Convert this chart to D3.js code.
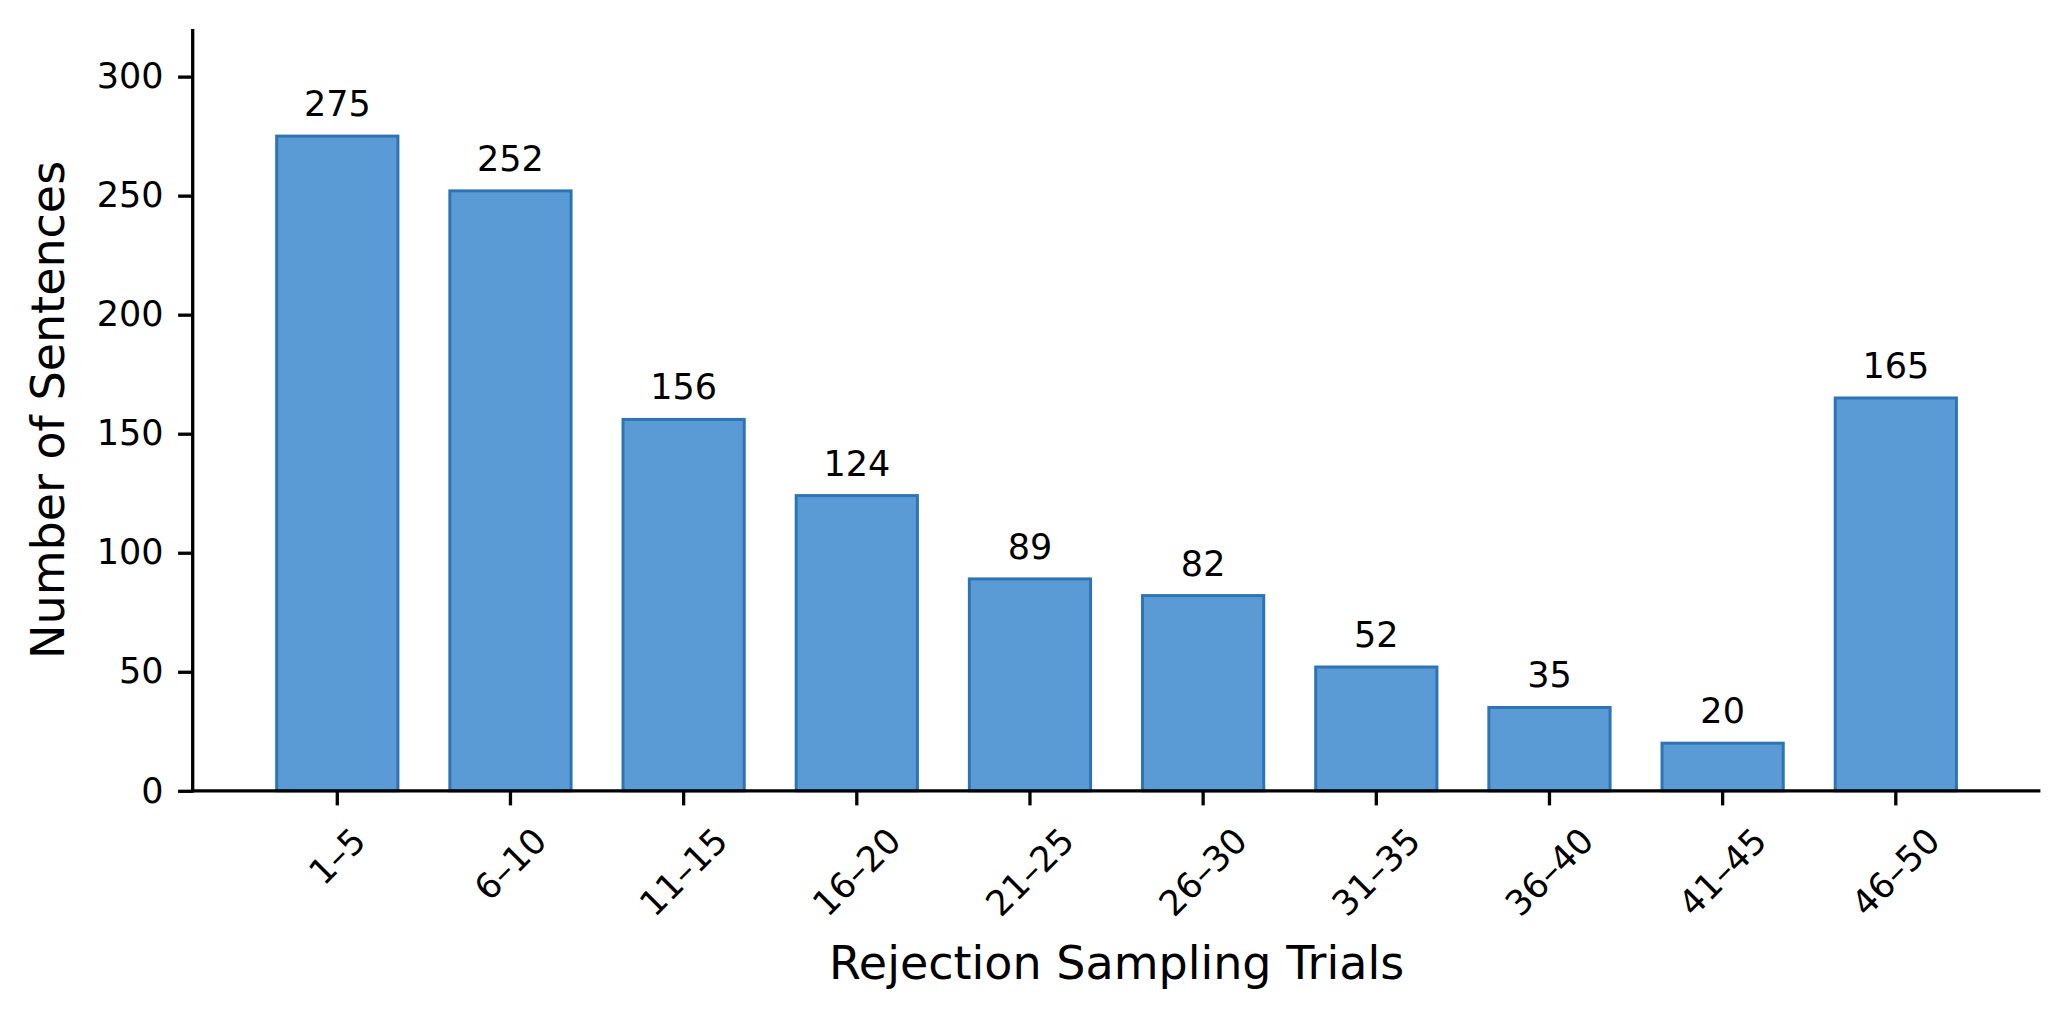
<!DOCTYPE html>
<html>
<head>
<meta charset="utf-8">
<script src="https://cdn.jsdelivr.net/npm/d3@7"></script>
<style>
  body { margin: 0; background: #fff; }
  svg text { font-family: "DejaVu Sans", sans-serif; fill: #000; }
</style>
</head>
<body>
<div id="chart"></div>
<script>
const categories = ["1–5", "6–10", "11–15", "16–20", "21–25", "26–30", "31–35", "36–40", "41–45", "46–50"];
const counts = [275, 252, 156, 124, 89, 82, 52, 35, 20, 165];
const yTicks = [0, 50, 100, 150, 200, 250, 300];

const W = 2070, H = 1018;
const plotL = 192.7, plotR = 2040.4, plotT = 29, plotB = 790.8;
const tickLen = 14.6, tickPad = 14.6, lw = 3.3;
const tickFont = 35, labelFont = 46;

const svg = d3.select("#chart").append("svg")
  .attr("width", W).attr("height", H);

const x = d3.scaleBand()
  .domain(categories)
  .range([plotL, plotR])
  .paddingInner(0.3)
  .paddingOuter(0.485);

const y = d3.scaleLinear()
  .domain([0, 320])
  .range([plotB, plotT]);

// bars
svg.selectAll(".bar")
  .data(counts)
  .enter().append("rect")
  .attr("class", "bar")
  .attr("x", (d, i) => x(categories[i]))
  .attr("y", d => y(d))
  .attr("width", x.bandwidth())
  .attr("height", d => y(0) - y(d))
  .attr("fill", "#5b9bd5")
  .attr("stroke", "#2e74b5")
  .attr("stroke-width", 3);

// value labels
svg.selectAll(".val")
  .data(counts)
  .enter().append("text")
  .attr("class", "val")
  .attr("x", (d, i) => x(categories[i]) + x.bandwidth() / 2)
  .attr("y", d => y(d) - 20)
  .attr("text-anchor", "middle")
  .attr("font-size", tickFont)
  .text(d => d);

// y axis
const yAxis = d3.axisLeft(y)
  .tickValues(yTicks)
  .tickSize(tickLen)
  .tickPadding(tickPad)
  .tickSizeOuter(0);

const gy = svg.append("g")
  .attr("transform", `translate(${plotL},0)`)
  .call(yAxis);
gy.select(".domain").remove();
gy.selectAll(".tick line").attr("stroke", "#000").attr("stroke-width", lw);
gy.selectAll(".tick text")
  .attr("font-size", tickFont)
  .attr("font-family", "DejaVu Sans")
  .attr("fill", "#000");

// x axis
const xAxis = d3.axisBottom(x)
  .tickSize(tickLen)
  .tickSizeOuter(0);

const gx = svg.append("g")
  .attr("transform", `translate(0,${plotB})`)
  .call(xAxis);
gx.select(".domain").remove();
gx.selectAll(".tick line").attr("stroke", "#000").attr("stroke-width", lw);
gx.selectAll(".tick text")
  .attr("font-size", tickFont)
  .attr("font-family", "DejaVu Sans")
  .attr("fill", "#000")
  .attr("text-anchor", "middle")
  .attr("dominant-baseline", "central")
  .attr("dy", null)
  .each(function () {
    const t = d3.select(this);
    const w = this.getComputedTextLength();
    const h = 1.164 * tickFont;
    const cy = tickLen + tickPad + (w + h) * Math.SQRT1_2 / 2;
    t.attr("y", 0).attr("transform", `translate(0,${cy}) rotate(-45)`);
  });

// spines
svg.append("line")
  .attr("x1", plotL).attr("x2", plotL)
  .attr("y1", plotT).attr("y2", plotB + lw / 2)
  .attr("stroke", "#000").attr("stroke-width", lw);
svg.append("line")
  .attr("x1", plotL - lw / 2).attr("x2", plotR)
  .attr("y1", plotB).attr("y2", plotB)
  .attr("stroke", "#000").attr("stroke-width", lw);

// axis labels
svg.append("text")
  .attr("x", (plotL + plotR) / 2)
  .attr("y", 979)
  .attr("text-anchor", "middle")
  .attr("font-size", labelFont)
  .text("Rejection Sampling Trials");

svg.append("text")
  .attr("transform", `translate(64,${(plotT + plotB) / 2}) rotate(-90)`)
  .attr("text-anchor", "middle")
  .attr("font-size", labelFont)
  .text("Number of Sentences");
</script>
</body>
</html>
